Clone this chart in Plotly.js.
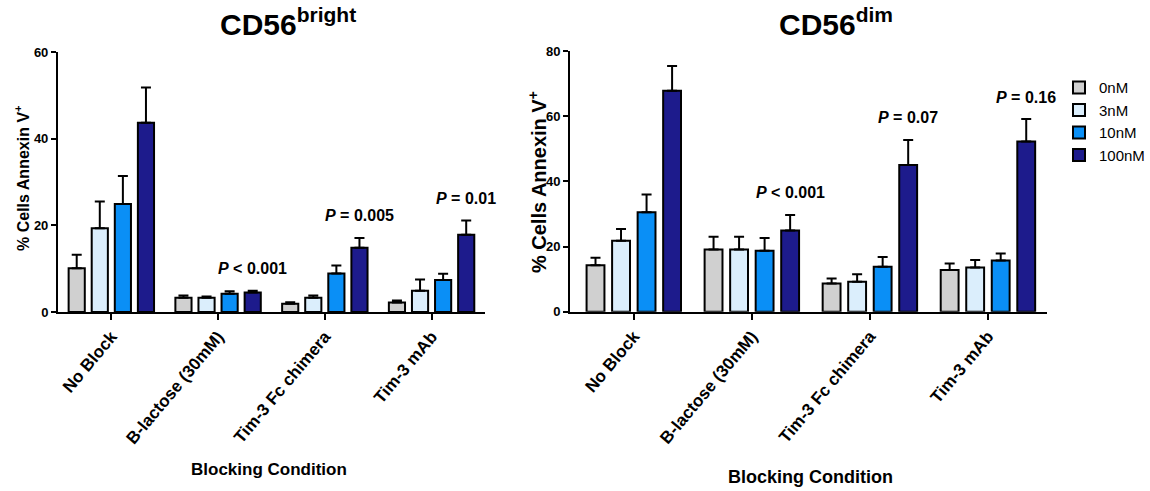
<!DOCTYPE html>
<html>
<head>
<meta charset="utf-8">
<script src="https://cdn.plot.ly/plotly-3.0.1.min.js"></script>
<style>
  html, body { margin: 0; padding: 0; background: #ffffff; }
  #chart { width: 1150px; height: 491px; }
</style>
</head>
<body>
<div id="chart"></div>
<script>
// Blocking conditions (x categories) and galectin-9 doses (series)
const categories = ['No Block', 'B-lactose (30mM)', 'Tim-3 Fc chimera', 'Tim-3 mAb'];
const doses = ['0nM', '3nM', '10nM', '100nM'];
const doseColors = ['#d0d0d0', '#dbeefc', '#0a8ff6', '#1d1b8c'];

// CD56bright NK cells: mean % Annexin V+ and SEM, one array per dose
const brightMean0 = [10.1, 3.3, 1.9, 2.2];
const brightMean3 = [19.3, 3.3, 3.3, 4.9];
const brightMean10 = [24.9, 4.2, 8.9, 7.4];
const brightMean100 = [43.7, 4.5, 14.8, 17.8];
const brightSem0 = [3.1, 0.5, 0.35, 0.45];
const brightSem3 = [6.2, 0.3, 0.5, 2.6];
const brightSem10 = [6.5, 0.6, 1.8, 1.4];
const brightSem100 = [8.1, 0.4, 2.3, 3.3];

// CD56dim NK cells
const dimMean0 = [14.3, 19.1, 8.7, 12.8];
const dimMean3 = [21.8, 19.1, 9.2, 13.6];
const dimMean10 = [30.5, 18.7, 13.8, 15.7];
const dimMean100 = [67.8, 24.9, 45.0, 52.2];
const dimSem0 = [2.3, 3.9, 1.5, 2.0];
const dimSem3 = [3.6, 3.9, 2.3, 2.3];
const dimSem10 = [5.5, 3.9, 3.0, 2.2];
const dimSem100 = [7.6, 4.8, 7.7, 6.9];

// P values vs. no block (categories 2-4)
const brightP = ['', 'P < 0.001', 'P = 0.005', 'P = 0.01'];
const dimP = ['', 'P < 0.001', 'P = 0.07', 'P = 0.16'];

const brightTicks = [0, 20, 40, 60];
const dimTicks = [0, 20, 40, 60, 80];

const brightMeans = [brightMean0, brightMean3, brightMean10, brightMean100];
const brightSems = [brightSem0, brightSem3, brightSem10, brightSem100];
const dimMeans = [dimMean0, dimMean3, dimMean10, dimMean100];
const dimSems = [dimSem0, dimSem3, dimSem10, dimSem100];

const FONT = 'Liberation Sans, Arial, Helvetica, sans-serif';
const BARGAP = 0.135;

const catIdx = categories.map((_, i) => i);

function barTrace(name, color, means, sems, xa, ya, showLegend) {
  return {
    type: 'bar',
    name: name,
    x: catIdx,
    y: means,
    xaxis: xa,
    yaxis: ya,
    showlegend: showLegend,
    marker: { color: color, line: { color: '#000000', width: 2 } },
    error_y: {
      type: 'data',
      symmetric: false,
      array: sems,
      arrayminus: sems.map(() => 0),
      color: '#000000',
      thickness: 2,
      width: 5
    },
    hoverinfo: 'skip'
  };
}

const traces = [];
doses.forEach((d, k) => traces.push(barTrace(d, doseColors[k], brightMeans[k], brightSems[k], 'x', 'y', true)));
doses.forEach((d, k) => traces.push(barTrace(d, doseColors[k], dimMeans[k], dimSems[k], 'x2', 'y2', false)));

// P-value labels sit above the 100nM bar of each group, clear of its error bar
function pAnnotations(labels, meansList, semsList, xref, yref) {
  const out = [];
  const lastSlot = 1.5 * (1 - BARGAP) / doses.length;
  labels.forEach((lab, i) => {
    if (!lab) return;
    let top = 0;
    meansList.forEach((m, k) => { top = Math.max(top, m[i] + semsList[k][i]); });
    const rest = lab.slice(1);
    out.push({
      xref: xref, yref: yref,
      x: i + lastSlot, y: top,
      yshift: 22,
      xanchor: 'center', yanchor: 'middle',
      showarrow: false,
      text: '<b><i>P</i>' + rest.replace('<', '&lt;') + '</b>',
      font: { family: FONT, size: 16, color: '#000000' }
    });
  });
  return out;
}

const axisCommon = {
  showline: true, linecolor: '#000000', linewidth: 2,
  showgrid: false, zeroline: false,
  ticks: 'outside', ticklen: 5, tickwidth: 2, tickcolor: '#000000',
  fixedrange: true
};

const xCommon = Object.assign({}, axisCommon, {
  type: 'linear',
  tickmode: 'array',
  tickvals: catIdx,
  ticktext: categories,
  tickangle: -50,
  ticklen: 6,
  tickfont: { family: FONT, size: 17, color: '#000000', weight: 'bold' }
});

const yCommon = Object.assign({}, axisCommon, {
  tickmode: 'array',
  tickfont: { family: FONT, size: 13, color: '#000000', weight: 'bold' }
});

const layout = {
  width: 1150,
  height: 491,
  margin: { l: 0, r: 0, t: 0, b: 0 },
  paper_bgcolor: '#ffffff',
  plot_bgcolor: '#ffffff',
  barmode: 'group',
  bargap: BARGAP,
  bargroupgap: 0.3,
  font: { family: FONT, color: '#000000' },
  xaxis: Object.assign({}, xCommon, { domain: [0.0504, 0.4217], range: [-0.5, 3.5], anchor: 'y' }),
  yaxis: Object.assign({}, yCommon, { domain: [0.3646, 0.8941], range: [0, 60], tickvals: brightTicks, anchor: 'x' }),
  xaxis2: Object.assign({}, xCommon, { domain: [0.4957, 0.9104], range: [-0.54, 3.5], anchor: 'y2' }),
  yaxis2: Object.assign({}, yCommon, { domain: [0.3651, 0.8961], range: [0, 80], tickvals: dimTicks, anchor: 'x2' }),
  legend: {
    x: 0.921, y: 0.855, xanchor: 'left', yanchor: 'top',
    bgcolor: 'rgba(0,0,0,0)',
    font: { family: FONT, size: 15, color: '#000000' },
    traceorder: 'normal'
  },
  annotations: [
    { xref: 'paper', yref: 'paper', x: 0.1896, y: 0.955, xanchor: 'left', yanchor: 'middle', showarrow: false,
      text: '<b>CD56<sup>bright</sup></b>', font: { family: FONT, size: 30, color: '#000000' } },
    { xref: 'paper', yref: 'paper', x: 0.6757, y: 0.955, xanchor: 'left', yanchor: 'middle', showarrow: false,
      text: '<b>CD56<sup>dim</sup></b>', font: { family: FONT, size: 30, color: '#000000' } },
    { xref: 'paper', yref: 'paper', x: 0.0191, y: 0.6375, xanchor: 'center', yanchor: 'middle', textangle: -90, showarrow: false,
      text: '<b>% Cells Annexin V<sup>+</sup></b>', font: { family: FONT, size: 16, color: '#000000' } },
    { xref: 'paper', yref: 'paper', x: 0.467, y: 0.6293, xanchor: 'center', yanchor: 'middle', textangle: -90, showarrow: false,
      text: '<b>% Cells Annexin V<sup>+</sup></b>', font: { family: FONT, size: 20, color: '#000000' } },
    { xref: 'paper', yref: 'paper', x: 0.2339, y: 0.0428, xanchor: 'center', yanchor: 'middle', showarrow: false,
      text: '<b>Blocking Condition</b>', font: { family: FONT, size: 17, color: '#000000' } },
    { xref: 'paper', yref: 'paper', x: 0.7052, y: 0.0285, xanchor: 'center', yanchor: 'middle', showarrow: false,
      text: '<b>Blocking Condition</b>', font: { family: FONT, size: 18, color: '#000000' } }
  ].concat(
    pAnnotations(brightP, brightMeans, brightSems, 'x', 'y'),
    pAnnotations(dimP, dimMeans, dimSems, 'x2', 'y2')
  )
};

Plotly.newPlot('chart', traces, layout, { displayModeBar: false, staticPlot: true });
</script>
</body>
</html>
